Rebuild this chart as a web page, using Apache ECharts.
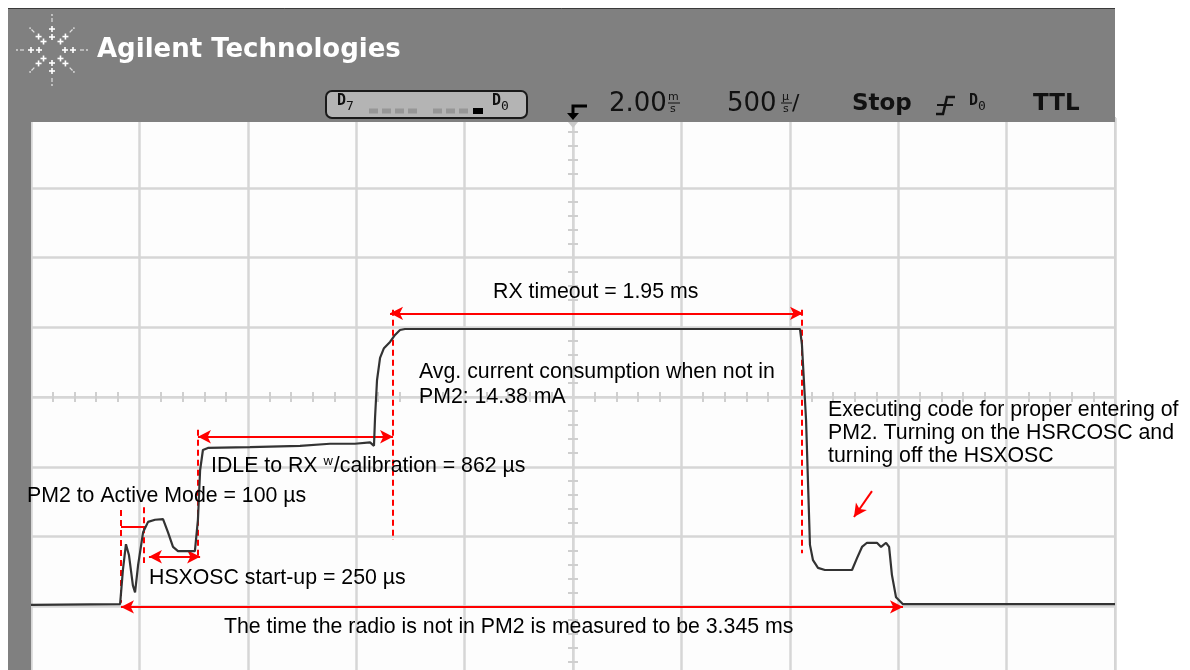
<!DOCTYPE html>
<html><head><meta charset="utf-8">
<script src="https://cdn.jsdelivr.net/npm/echarts@6/dist/echarts.min.js"></script>
<style>html,body{margin:0;padding:0;background:#fff}#c{width:1190px;height:670px}</style>
</head><body><div id="c"></div><script>
// Trace: time in µs relative to trigger (500 µs/div), level in screen divisions from centre
const traceTime = [-2500,-2089,-2076,-2062,-2048,-2030,-2020,-2006,-1983,-1960,-1928,-1891,-1868,-1845,-1822,-1744,-1730,-1720,-1707,-1684,-1490,-1259,-1121,-1006,-936,-918,-913,-904,-890,-872,-844,-821,-798,-775,1047,1056,1075,1093,1107,1130,1162,1287,1310,1333,1356,1402,1421,1444,1458,1471,1490,1522,2500];
const traceLevel = [-2.98,-2.97,-2.48,-2.11,-2.27,-2.70,-2.80,-2.41,-1.94,-1.79,-1.76,-1.75,-1.94,-2.15,-2.21,-2.21,-1.76,-1.05,-0.76,-0.73,-0.72,-0.70,-0.67,-0.67,-0.65,-0.70,-0.29,0.24,0.56,0.70,0.79,0.89,0.96,0.975,0.975,0.75,-0.33,-2.12,-2.34,-2.45,-2.48,-2.48,-2.31,-2.15,-2.09,-2.09,-2.15,-2.09,-2.15,-2.55,-2.87,-2.97,-2.97];
// Dashed red markers
const markerTimes = [-2085,-1979,-1730,-830,1056];
const markerTop = [-1.62,-1.58,-0.47,1.25,1.25];
const markerBottom = [-2.95,-2.38,-2.31,-2.05,-2.24];
// Double-headed arrows
const spanStart = [-1956,-1730,-844,-2085];
const spanEnd = [-1720,-830,1061,1522];
const spanLevel = [-2.29,-0.57,1.20,-3.01];
// Bracket for PM2 to Active Mode
const bracketTimes = [-2085,-1974];
const bracketLevel = -1.86;
// Small pointer arrow
const pointerFrom = [1379,-1.35];
const pointerTo = [1296,-1.72];
// Axis settings
const timeMin = -2500, timeMax = 2500, timeStep = 500;
const levelMin = -4, levelMax = 4, levelStep = 1;

const RED = '#ff0000';
const dashed = {color: RED, width: 2, type: [6, 4]};
const solid = {color: RED, width: 2, type: 'solid'};
const markData = [];
markerTimes.forEach((t, i) => markData.push([
  {coord: [t, markerTop[i]], symbol: 'none', lineStyle: dashed},
  {coord: [t, markerBottom[i]], symbol: 'none'}
]));
spanStart.forEach((t, i) => markData.push([
  {coord: [t, spanLevel[i]], symbol: 'arrow', lineStyle: solid},
  {coord: [spanEnd[i], spanLevel[i]], symbol: 'arrow'}
]));
markData.push([
  {coord: [bracketTimes[0], bracketLevel], symbol: 'none', lineStyle: solid},
  {coord: [bracketTimes[1], bracketLevel], symbol: 'none'}
]);
markData.push([
  {coord: pointerFrom, symbol: 'none', lineStyle: solid},
  {coord: pointerTo, symbol: 'arrow'}
]);

const GRIDC = '#d6d6d6';
function xAx(inside, split) {
  return {type: 'value', min: timeMin, max: timeMax, interval: timeStep, position: 'bottom',
    axisLine: {onZero: true, onZeroAxisIndex: 0, lineStyle: {color: GRIDC, width: 2}},
    axisTick: {show: false, inside: inside},
    minorTick: {show: true, splitNumber: 5, length: 5, lineStyle: {color: '#cfcfcf', width: 2}},
    axisLabel: {show: false},
    splitLine: {show: split, lineStyle: {color: GRIDC, width: 2.5}}};
}
function yAx(inside, split) {
  return {type: 'value', min: levelMin, max: levelMax, interval: levelStep, position: 'left',
    axisLine: {onZero: true, onZeroAxisIndex: 0, lineStyle: {color: GRIDC, width: 2}},
    axisTick: {show: false, inside: inside},
    minorTick: {show: true, splitNumber: 5, length: 5, lineStyle: {color: '#cfcfcf', width: 2}},
    axisLabel: {show: false},
    splitLine: {show: split, lineStyle: {color: GRIDC, width: 2.5}}};
}

const AF = '"Liberation Sans", Arial, sans-serif';
const NS = '21.3px ';
function note(text, x, y) {
  return {type: 'text', z: 120, style: {text: text, x: x, y: y, fill: '#000', font: NS + AF, verticalAlign: 'middle'}};
}
const els = [];
// frame
els.push({type: 'rect', z: 100, shape: {x: 8, y: 8, width: 1107, height: 114}, style: {fill: '#808080'}});
els.push({type: 'rect', z: 100, shape: {x: 8, y: 122, width: 23, height: 548}, style: {fill: '#808080'}});
els.push({type: 'line', z: 101, shape: {x1: 8, y1: 8.5, x2: 1115, y2: 8.5}, style: {stroke: '#3a3a3a', lineWidth: 1}});
// logo
const cx = 52, cy = 50;
for (let k = 0; k < 8; k++) {
  const a = k * Math.PI / 4;
  const diag = k % 2 === 1;
  const rs = diag ? [12, 19] : [13, 21];
  rs.forEach(r => {
    const px = cx + r * Math.cos(a), py = cy + r * Math.sin(a);
    els.push({type: 'line', z: 102, shape: {x1: px - 3, y1: py, x2: px + 3, y2: py}, style: {stroke: '#fff', lineWidth: 1.6}});
    els.push({type: 'line', z: 102, shape: {x1: px, y1: py - 3, x2: px, y2: py + 3}, style: {stroke: '#fff', lineWidth: 1.6}});
  });
  const r1 = diag ? 25 : 28, r2 = diag ? 31 : 35;
  els.push({type: 'line', z: 102, shape: {x1: cx + r1 * Math.cos(a), y1: cy + r1 * Math.sin(a), x2: cx + (r1 + 4) * Math.cos(a), y2: cy + (r1 + 4) * Math.sin(a)}, style: {stroke: '#e0e0e0', lineWidth: 1.2}});
  els.push({type: 'circle', z: 102, shape: {cx: cx + r2 * Math.cos(a), cy: cy + r2 * Math.sin(a), r: 0.9}, style: {fill: '#e0e0e0'}});
}
els.push({type: 'text', z: 102, style: {text: 'Agilent Technologies', x: 97, y: 50, fill: '#fff', font: 'bold 26px "DejaVu Sans"', verticalAlign: 'middle'}});
// status box
els.push({type: 'rect', z: 102, shape: {x: 326, y: 91, width: 201, height: 27, r: 6}, style: {fill: '#b4b4b4', stroke: '#1a1a1a', lineWidth: 2}});
els.push({type: 'text', z: 103, style: {text: 'D', x: 337, y: 101, fill: '#111', font: 'bold 15px "DejaVu Sans Mono"', verticalAlign: 'middle'}});
els.push({type: 'text', z: 103, style: {text: '7', x: 346, y: 107, fill: '#111', font: '13px "DejaVu Sans Mono"', verticalAlign: 'middle'}});
els.push({type: 'text', z: 103, style: {text: 'D', x: 492, y: 101, fill: '#111', font: 'bold 15px "DejaVu Sans Mono"', verticalAlign: 'middle'}});
els.push({type: 'text', z: 103, style: {text: '0', x: 501, y: 107, fill: '#111', font: '13px "DejaVu Sans Mono"', verticalAlign: 'middle'}});
els.push({type: 'line', z: 103, shape: {x1: 369, y1: 111, x2: 421, y2: 111}, style: {stroke: '#969696', lineWidth: 5, lineDash: [9, 4]}});
els.push({type: 'line', z: 103, shape: {x1: 433, y1: 111, x2: 470, y2: 111}, style: {stroke: '#969696', lineWidth: 5, lineDash: [9, 4]}});
els.push({type: 'rect', z: 103, shape: {x: 473, y: 108, width: 10, height: 6}, style: {fill: '#000'}});
// trigger marker
els.push({type: 'polyline', z: 103, shape: {points: [[587, 106], [573, 106], [573, 114]]}, style: {stroke: '#000', lineWidth: 3, fill: null}});
els.push({type: 'polygon', z: 103, shape: {points: [[567, 113], [579, 113], [573, 120]]}, style: {fill: '#000'}});
els.push({type: 'polygon', z: 103, shape: {points: [[568, 122], [578, 122], [573, 128]]}, style: {fill: '#c8c8c8'}});
// time/div readouts
const HF = '"DejaVu Sans", sans-serif';
els.push({type: 'text', z: 103, style: {text: '2.00', x: 609, y: 104, fill: '#111', font: '26px ' + HF, verticalAlign: 'middle'}});
els.push({type: 'text', z: 103, style: {text: 'm', x: 668, y: 97, fill: '#111', font: '11px ' + HF, verticalAlign: 'middle'}});
els.push({type: 'line', z: 103, shape: {x1: 668, y1: 103, x2: 680, y2: 103}, style: {stroke: '#111', lineWidth: 1}});
els.push({type: 'text', z: 103, style: {text: 's', x: 670, y: 109, fill: '#111', font: '11px ' + HF, verticalAlign: 'middle'}});
els.push({type: 'text', z: 103, style: {text: '500', x: 727, y: 104, fill: '#111', font: '26px ' + HF, verticalAlign: 'middle'}});
els.push({type: 'text', z: 103, style: {text: 'µ', x: 782, y: 97, fill: '#111', font: '11px ' + HF, verticalAlign: 'middle'}});
els.push({type: 'line', z: 103, shape: {x1: 781, y1: 103, x2: 792, y2: 103}, style: {stroke: '#111', lineWidth: 1}});
els.push({type: 'text', z: 103, style: {text: 's', x: 783, y: 109, fill: '#111', font: '11px ' + HF, verticalAlign: 'middle'}});
els.push({type: 'text', z: 103, style: {text: '/', x: 792, y: 104, fill: '#111', font: '22px ' + HF, verticalAlign: 'middle'}});
els.push({type: 'text', z: 103, style: {text: 'Stop', x: 852, y: 104, fill: '#111', font: 'bold 23px ' + HF, verticalAlign: 'middle'}});
els.push({type: 'polyline', z: 103, shape: {points: [[955, 97], [947, 97], [943, 114], [936, 114]]}, style: {stroke: '#111', lineWidth: 2.5, fill: null}});
els.push({type: 'line', z: 103, shape: {x1: 937, y1: 105, x2: 953, y2: 105}, style: {stroke: '#111', lineWidth: 2}});
els.push({type: 'text', z: 103, style: {text: 'D', x: 969, y: 101, fill: '#111', font: 'bold 15px "DejaVu Sans Mono"', verticalAlign: 'middle'}});
els.push({type: 'text', z: 103, style: {text: '0', x: 978, y: 107, fill: '#111', font: '13px "DejaVu Sans Mono"', verticalAlign: 'middle'}});
els.push({type: 'text', z: 103, style: {text: 'TTL', x: 1033, y: 104, fill: '#111', font: 'bold 23px ' + HF, verticalAlign: 'middle'}});
// annotations
els.push(note('RX timeout = 1.95 ms', 493, 292));
els.push(note('Avg. current consumption when not in', 419, 372));
els.push(note('PM2: 14.38 mA', 419, 397));
els.push(note('Executing code for proper entering of', 828, 410));
els.push(note('PM2. Turning on the HSRCOSC and', 828, 433));
els.push(note('turning off the HSXOSC', 828, 456));
els.push({type: 'text', z: 120, style: {text: '{a|IDLE to RX }{s|w}{a|/calibration = 862 µs}', x: 211, y: 466, verticalAlign: 'middle',
  rich: {a: {font: NS + AF, fill: '#000', color: '#000'}, s: {font: '13px ' + AF, fill: '#000', color: '#000', verticalAlign: 'top', padding: [0, 1, 10, 0]}}}});
els.push(note('PM2 to Active Mode = 100 µs', 27, 496));
els.push(note('HSXOSC start-up = 250 µs', 149, 578));
els.push(note('The time the radio is not in PM2 is measured to be 3.345 ms', 224, 627));

const chart = echarts.init(document.getElementById('c'), null, {renderer: 'canvas'});
chart.setOption({
  animation: false,
  backgroundColor: '#ffffff',
  grid: {left: 31, width: 1084, top: 118, height: 558, outerBoundsMode: 'none', containLabel: false, show: true, backgroundColor: '#fdfdfd', borderColor: '#cfcfcf', borderWidth: 2},
  xAxis: [xAx(true, true), xAx(false, false)],
  yAxis: [yAx(true, true), yAx(false, false)],
  series: [{
    type: 'line', xAxisIndex: 0, yAxisIndex: 0, showSymbol: false, symbol: 'none',
    data: traceTime.map((t, i) => [t, traceLevel[i]]),
    lineStyle: {color: '#333333', width: 2.2},
    z: 5,
    markLine: {silent: true, symbolSize: [10, 13], label: {show: false}, emphasis: {disabled: true}, data: markData}
  }],
  graphic: {elements: els}
});
</script></body></html>
